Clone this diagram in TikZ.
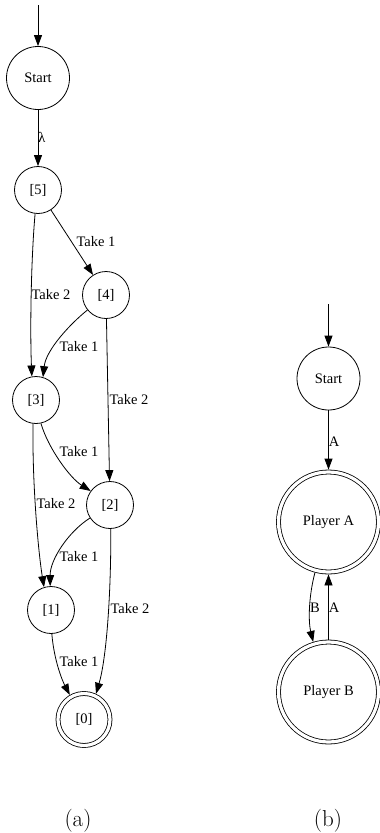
\documentclass[tikz,border=0pt]{standalone}
\usepackage{fontspec}
\newfontfamily\tms{Liberation Serif}
\usetikzlibrary{arrows.meta}
\begin{document}
\begin{tikzpicture}[x=1pt,y=-1pt,
  every path/.style={line width=0.8pt},
  st/.style={circle,draw,line width=0.8pt,inner sep=0pt,minimum size=47pt,font=\tms\fontsize{14.5}{17}\selectfont},
  bigst/.style={st,minimum size=63pt},
  acc/.style={st,double,double distance=3.2pt,outer sep=2.4pt},
  lbl/.style={font=\tms\fontsize{14.5}{17}\selectfont,inner sep=0pt},
  captxt/.style={font=\fontsize{23}{28}\selectfont,inner sep=0pt},
  arr/.style={-{Triangle[length=11pt,width=8pt]}}]
\useasboundingbox (0,0) rectangle (380,833);
% (a)
\coordinate (ia) at (38,5);
\node[bigst] (S) at (38,78) {Start};
\node[st] (n5) at (38,190) {[5]};
\node[st] (n4) at (106,295) {[4]};
\node[st] (n3) at (36,400) {[3]};
\node[st] (n2) at (110,505) {[2]};
\node[st] (n1) at (51,610) {[1]};
\node[acc,minimum size=52pt] (n0) at (84,719.5) {[0]};
\draw[arr] (ia) -- (S);
\draw[arr] (S) -- (n5);
\node[lbl] at (42,137) {λ};
\draw[arr] (n5) -- (n4);
\node[lbl] at (96,242) {Take 1};
\draw[arr] (n5.-97) .. controls (31,260) and (30,330) .. (n3.100);
\node[lbl] at (51,295) {Take 2};
\draw[arr] (n4.219) .. controls (70,324) and (46,350) .. (n3.73);
\node[lbl] at (79,347) {Take 1};
\draw[arr] (n4) -- (n2);
\node[lbl] at (129,400) {Take 2};
\draw[arr] (n3.-78) .. controls (48,448) and (70,478) .. (n2.144);
\node[lbl] at (79,452) {Take 1};
\draw[arr] (n3.-97) .. controls (32,480) and (38,550) .. (n1.107);
\node[lbl] at (56,504) {Take 2};
\draw[arr] (n2.213) .. controls (68,532) and (50,560) .. (n1.92);
\node[lbl] at (79,557) {Take 1};
\draw[arr] (n2.-88) .. controls (111,600) and (106,660) .. (n0.65);
\node[lbl] at (130,609) {Take 2};
\draw[arr] (n1.-88) .. controls (54,660) and (62,680) .. (n0.120);
\node[lbl] at (79,662) {Take 1};
% (b)
\coordinate (ib) at (328.5,304);
\node[bigst] (SB) at (328.5,378.5) {Start};
\node[acc,minimum size=100pt] (PA) at (328.5,522) {Player A};
\node[acc,minimum size=100pt] (PB) at (328.5,692) {Player B};
\draw[arr] (ib) -- (SB);
\draw[arr] (SB) -- (PA);
\node[lbl] at (334,442) {A};
\draw[arr] (PA.-105) .. controls (309,595) and (308,620) .. (PB.107);
\node[lbl] at (315,608) {B};
\draw[arr] (PB.north) -- (PA.south);
\node[lbl] at (334,608) {A};
% captions
\node[captxt] (ca) at (78,821) {(a)};
\node[captxt] (cb) at (328,821) {(b)};
\end{tikzpicture}
\end{document}
